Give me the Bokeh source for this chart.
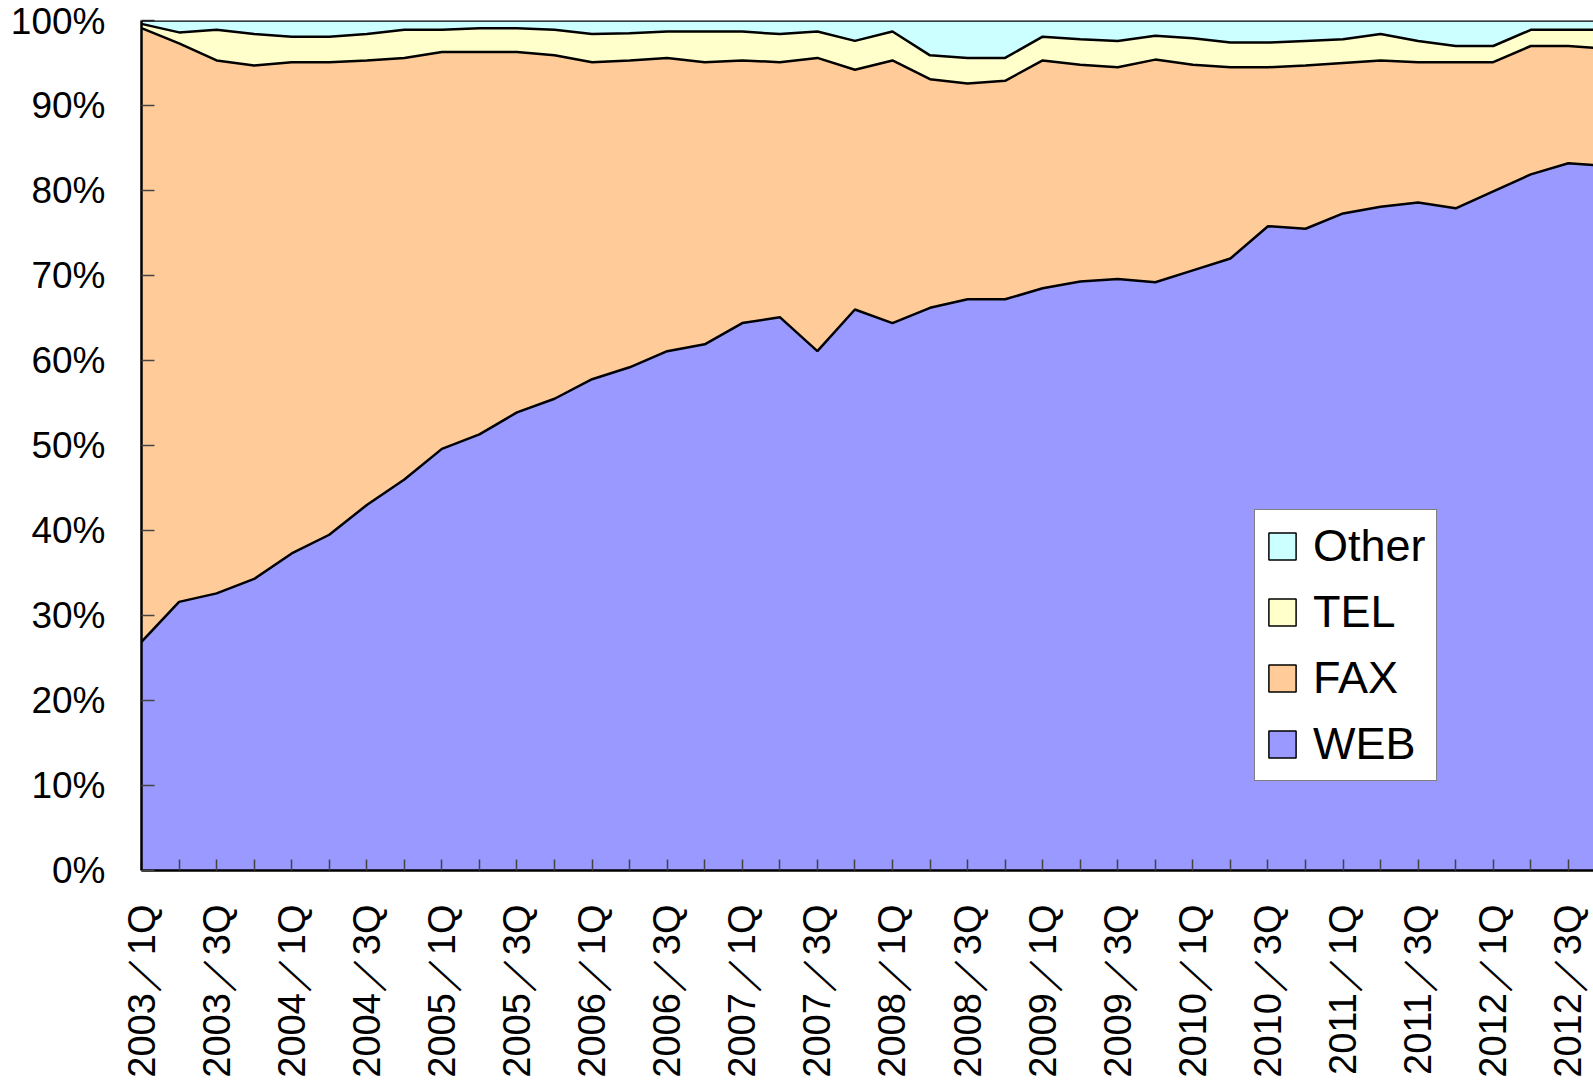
import numpy as np
from bokeh.plotting import figure
from bokeh.models import (Range1d, FixedTicker, Legend, LegendItem, Span,
                          ColumnDataSource)
from bokeh.embed import file_html
from bokeh.resources import INLINE

quarters = [
    "2003／1Q", "2003／2Q", "2003／3Q", "2003／4Q",
    "2004／1Q", "2004／2Q", "2004／3Q", "2004／4Q",
    "2005／1Q", "2005／2Q", "2005／3Q", "2005／4Q",
    "2006／1Q", "2006／2Q", "2006／3Q", "2006／4Q",
    "2007／1Q", "2007／2Q", "2007／3Q", "2007／4Q",
    "2008／1Q", "2008／2Q", "2008／3Q", "2008／4Q",
    "2009／1Q", "2009／2Q", "2009／3Q", "2009／4Q",
    "2010／1Q", "2010／2Q", "2010／3Q", "2010／4Q",
    "2011／1Q", "2011／2Q", "2011／3Q", "2011／4Q",
    "2012／1Q", "2012／2Q", "2012／3Q", "2012／4Q",
]

web = [26.9, 31.6, 32.6, 34.3, 37.3, 39.5, 43.0, 46.0, 49.6, 51.3,
       53.9, 55.5, 57.8, 59.2, 61.1, 61.9, 64.4, 65.1, 61.1, 66.0,
       64.4, 66.2, 67.2, 67.2, 68.5, 69.3, 69.6, 69.2, 70.6, 72.0,
       75.8, 75.5, 77.3, 78.1, 78.6, 77.9, 79.9, 81.9, 83.2, 82.9]
fax = [72.2, 65.7, 62.7, 60.4, 57.8, 55.6, 52.3, 49.6, 46.7, 45.0,
       42.4, 40.4, 37.3, 36.1, 34.5, 33.2, 30.9, 30.0, 34.5, 28.2,
       30.9, 26.9, 25.4, 25.7, 26.8, 25.5, 24.9, 26.2, 24.2, 22.5,
       18.7, 19.2, 17.7, 17.2, 16.5, 17.2, 15.2, 15.1, 13.8, 13.8]
tel = [0.5, 1.3, 3.6, 3.7, 3.0, 3.0, 3.1, 3.3, 2.6, 2.8,
       2.8, 3.0, 3.3, 3.2, 3.1, 3.6, 3.4, 3.3, 3.1, 3.4,
       3.4, 2.8, 3.0, 2.7, 2.8, 3.0, 3.1, 2.8, 3.1, 2.9,
       2.9, 2.9, 2.8, 3.1, 2.5, 1.9, 1.9, 1.9, 1.9, 2.2]
other = [0.4, 1.4, 1.1, 1.6, 1.9, 1.9, 1.6, 1.1, 1.1, 0.9,
         0.9, 1.1, 1.6, 1.5, 1.3, 1.3, 1.3, 1.6, 1.3, 2.4,
         1.3, 4.1, 4.4, 4.4, 1.9, 2.2, 2.4, 1.8, 2.1, 2.6,
         2.6, 2.4, 2.2, 1.6, 2.4, 3.0, 3.0, 1.1, 1.1, 1.1]

series_names = ["WEB", "FAX", "TEL", "Other"]
series_colors = ["#9999FF", "#FFCC99", "#FFFFCC", "#CCFFFF"]
y_ticks = [0, 10, 20, 30, 40, 50, 60, 70, 80, 90, 100]

x = list(range(len(quarters)))
src = ColumnDataSource(dict(x=x, WEB=web, FAX=fax, TEL=tel, Other=other))

p = figure(width=1593, height=1080,
           x_range=Range1d(0, 38.67), y_range=Range1d(0, 100),
           output_backend="svg", toolbar_location=None,
           min_border_left=141, min_border_right=0,
           min_border_top=20, min_border_bottom=209)
p.xgrid.visible = False
p.ygrid.visible = False
p.outline_line_color = None
p.background_fill_color = "white"
p.border_fill_color = "white"

p.varea_stack(stackers=series_names, x="x", color=series_colors, source=src)

cum = np.cumsum(np.array([web, fax, tel]), axis=0)
for row in cum:
    p.line(x, list(row), line_color="black", line_width=2.5)

p.add_layout(Span(location=100, dimension="width", line_color="black",
                  line_width=2.5))

# axes
label_font = "Liberation Sans"
xa = p.xaxis[0]
xa.ticker = FixedTicker(ticks=x[0::2], minor_ticks=x[1::2])
xa.major_label_overrides = {i: quarters[i] for i in x[0::2]}
xa.major_label_orientation = np.pi / 2
xa.major_label_text_font = label_font
xa.major_label_text_font_size = "38px"
xa.major_label_text_color = "black"
xa.major_label_standoff = 34
xa.major_tick_in = 11
xa.major_tick_out = 0
xa.minor_tick_in = 11
xa.minor_tick_out = 0
xa.major_tick_line_color = "#444444"
xa.minor_tick_line_color = "#444444"
xa.major_tick_line_width = 1.5
xa.minor_tick_line_width = 1.5
xa.axis_line_color = "black"
xa.axis_line_width = 2.5

ya = p.yaxis[0]
ya.ticker = FixedTicker(ticks=y_ticks)
ya.major_label_overrides = {v: f"{v}%" for v in y_ticks}
ya.major_label_text_font = label_font
ya.major_label_text_font_size = "37px"
ya.major_label_text_color = "black"
ya.major_label_standoff = 36
ya.major_tick_in = 13
ya.major_tick_out = 0
ya.minor_tick_line_color = None
ya.major_tick_line_color = "#444444"
ya.major_tick_line_width = 1.5
ya.axis_line_color = "black"
ya.axis_line_width = 2.5

# legend with outlined swatches (hidden quads that only serve as legend glyphs)
items = []
for name, col in zip(series_names, series_colors):
    r = p.quad(left="x", right="x", top=name, bottom=name, source=src,
               fill_color=col, line_color="black", line_width=1.5)
    r.visible = False
    items.append(LegendItem(label=name, renderers=[r]))
items = items[::-1]

legend = Legend(items=items, location=(1113, 89),
                label_text_font="Liberation Sans",
                label_text_font_size="45px",
                label_text_color="black",
                glyph_width=34, glyph_height=34,
                label_standoff=14, spacing=14, padding=10,
                border_line_color="black", border_line_width=1,
                background_fill_color="white", background_fill_alpha=1.0,
                inactive_fill_alpha=0.0,
                margin=0)
p.add_layout(legend)

open("out.html", "w").write(file_html(p, INLINE))
